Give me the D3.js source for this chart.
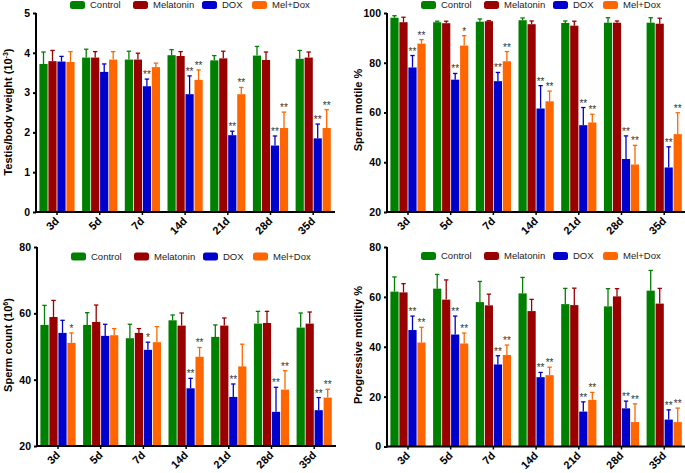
<!DOCTYPE html>
<html>
<head>
<meta charset="utf-8">
<script src="https://cdn.jsdelivr.net/npm/d3@7/dist/d3.min.js"></script>
<style>
  html, body { margin: 0; padding: 0; background: #fff; }
  svg { display: block; font-family: "Liberation Sans", Arial, sans-serif; }
</style>
</head>
<body>
<svg id="chart" width="685" height="473"></svg>
<script>
// ---------- DATA ----------
const groups = ["3d", "5d", "7d", "14d", "21d", "28d", "35d"];
const seriesNames = ["Control", "Melatonin", "DOX", "Mel+Dox"];
const seriesColors = ["#008000", "#990000", "#0000CC", "#FF6600"];

// Testis/body weight (10^-3)
const testisMean = [
  [3.72, 3.88, 3.83, 3.94, 3.81, 3.93, 3.85],
  [3.79, 3.88, 3.83, 3.92, 3.86, 3.82, 3.88],
  [3.78, 3.52, 3.16, 2.96, 1.93, 1.67, 1.85],
  [3.77, 3.83, 3.64, 3.32, 2.96, 2.11, 2.11]
];
const testisErr = [
  [0.30, 0.21, 0.21, 0.14, 0.12, 0.23, 0.21],
  [0.27, 0.15, 0.16, 0.11, 0.18, 0.20, 0.14],
  [0.13, 0.20, 0.18, 0.46, 0.10, 0.24, 0.36],
  [0.26, 0.20, 0.10, 0.25, 0.17, 0.40, 0.46]
];
const testisSig = [
  ["", "", "", "", "", "", ""],
  ["", "", "", "", "", "", ""],
  ["", "", "**", "**", "**", "**", "**"],
  ["", "", "", "**", "**", "**", "**"]
];
const testisTicks = [0, 1, 2, 3, 4, 5];

// Sperm motile %
const motileMean = [
  [98.1, 96.3, 96.5, 97.1, 96.0, 96.1, 96.1],
  [96.3, 95.9, 96.7, 95.5, 94.9, 96.1, 95.7],
  [78.1, 73.2, 72.6, 61.6, 54.9, 41.3, 37.9],
  [87.7, 86.9, 80.6, 64.5, 56.0, 39.1, 51.3]
];
const motileErr = [
  [0.8, 0.4, 1.1, 0.9, 0.8, 2.0, 2.0],
  [2.0, 0.8, 0.2, 1.3, 1.8, 0.7, 2.2],
  [4.8, 2.5, 3.5, 9.2, 7.1, 9.3, 8.3],
  [1.6, 4.0, 3.9, 4.1, 3.3, 7.7, 8.6]
];
const motileSig = [
  ["", "", "", "", "", "", ""],
  ["", "", "", "", "", "", ""],
  ["**", "**", "**", "**", "**", "**", "**"],
  ["**", "*", "**", "**", "**", "**", "**"]
];
const motileTicks = [20, 40, 60, 80, 100];

// Sperm count (10^6)
const countMean = [
  [56.5, 56.5, 52.5, 57.9, 52.9, 56.9, 55.7],
  [58.9, 57.4, 54.1, 56.3, 56.3, 57.1, 56.9],
  [54.1, 53.2, 49.0, 37.4, 34.8, 30.3, 30.8],
  [51.1, 53.4, 51.3, 46.9, 44.0, 37.0, 34.6]
];
const countErr = [
  [5.9, 3.7, 4.2, 1.6, 3.6, 3.7, 4.4],
  [5.0, 5.1, 1.3, 3.8, 2.3, 3.5, 3.5],
  [3.8, 3.5, 2.3, 3.0, 3.9, 7.4, 3.8],
  [3.0, 2.0, 4.7, 2.8, 6.7, 5.7, 2.5]
];
const countSig = [
  ["", "", "", "", "", "", ""],
  ["", "", "", "", "", "", ""],
  ["", "", "*", "**", "**", "**", "**"],
  ["*", "", "", "**", "", "**", "**"]
];
const countTicks = [20, 40, 60, 80];

// Progressive motility %
const progMean = [
  [62.1, 63.3, 57.9, 61.4, 57.1, 56.2, 62.5],
  [61.8, 58.9, 56.6, 54.3, 56.7, 60.2, 57.3],
  [46.7, 44.9, 32.9, 27.8, 14.0, 15.3, 10.8],
  [41.7, 41.3, 36.7, 28.6, 18.7, 9.8, 9.8]
];
const progErr = [
  [5.9, 5.7, 8.3, 6.4, 6.3, 7.1, 8.1],
  [3.5, 7.9, 4.5, 4.7, 6.8, 3.1, 6.1],
  [5.6, 7.4, 3.5, 1.9, 3.9, 2.9, 3.9],
  [6.1, 4.2, 4.0, 3.2, 3.0, 7.3, 5.6]
];
const progSig = [
  ["", "", "", "", "", "", ""],
  ["", "", "", "", "", "", ""],
  ["**", "**", "**", "**", "**", "**", "**"],
  ["**", "**", "**", "**", "**", "**", "**"]
];
const progTicks = [0, 20, 40, 60, 80];

// ---------- DRAW ----------
const svg = d3.select("#chart");
svg.append("rect").attr("width", 685).attr("height", 473).attr("fill", "#fff");

function drawPanel(cfg) {
  const g = svg.append("g");
  const y = d3.scaleLinear().domain(cfg.domain).range([cfg.yBottom, cfg.yTop]);
  const plotW = 299;
  const x = d3.scaleBand().domain(groups)
    .range([cfg.x0 + 3, cfg.x0 + 3 + 7 * 42.7 - 6.7])
    .paddingInner(0.157).paddingOuter(0);
  const xs = d3.scaleBand().domain(seriesNames).range([0, x.bandwidth()]).padding(0);

  // bars
  seriesNames.forEach((s, si) => {
    const col = seriesColors[si];
    groups.forEach((grp, gi) => {
      const v = cfg.means[si][gi];
      const e = cfg.errs[si][gi];
      const bx = x(grp) + xs(s);
      const bw = xs.bandwidth();
      const cx = bx + bw / 2;
      // error bar
      g.append("line").attr("x1", cx).attr("x2", cx)
        .attr("y1", y(v)).attr("y2", y(v + e))
        .attr("stroke", col).attr("stroke-width", 1.3);
      g.append("line").attr("x1", cx - 2.2).attr("x2", cx + 2.2)
        .attr("y1", y(v + e)).attr("y2", y(v + e))
        .attr("stroke", col).attr("stroke-width", 1.3);
      g.append("rect").attr("x", bx + 0.4).attr("width", bw - 0.8)
        .attr("y", y(v)).attr("height", y(cfg.domain[0]) - y(v))
        .attr("fill", col);
      const sig = cfg.sigs[si][gi];
      if (sig) {
        g.append("text").attr("x", cx).attr("y", y(v + e) - 1)
          .attr("text-anchor", "middle").attr("font-size", 10)
          .attr("fill", "#333").text(sig);
      }
    });
  });

  // y axis
  const yAxis = d3.axisLeft(y).tickValues(cfg.ticks).tickSize(3).tickPadding(3)
    .tickFormat(d3.format("d"));
  const ya = g.append("g").attr("transform", `translate(${cfg.x0},0)`).call(yAxis);
  ya.select(".domain").attr("stroke-width", 2).attr("d", `M0,${cfg.yTop}V${cfg.yBottom + 1}`);
  ya.selectAll(".tick line").attr("stroke-width", 2);
  ya.selectAll("text").attr("font-size", 10.5).attr("font-weight", "bold")
    .attr("font-family", "Liberation Sans, Arial, sans-serif").attr("fill", "#000");

  // x axis
  const xAxis = d3.axisBottom(x).tickSize(3).tickPadding(3);
  const xa = g.append("g").attr("transform", `translate(0,${cfg.yBottom})`).call(xAxis);
  xa.select(".domain").attr("stroke-width", 2).attr("d", `M${cfg.x0 - 1},0H${cfg.x0 + plotW}`);
  xa.selectAll(".tick line").attr("stroke-width", 1.5);
  xa.selectAll("text").attr("font-size", 11).attr("font-weight", "bold")
    .attr("font-family", "Liberation Sans, Arial, sans-serif").attr("fill", "#000")
    .attr("text-anchor", "end").attr("dy", "0.35em").attr("y", 0)
    .attr("transform", "translate(0,7) rotate(-45)");

  // y title
  const t = g.append("text")
    .attr("transform", `translate(${cfg.titleX},${cfg.titleY}) rotate(-90)`)
    .attr("text-anchor", "middle").attr("font-size", 11).attr("font-weight", "bold")
    .attr("fill", "#000");
  t.append("tspan").text(cfg.title[0]);
  if (cfg.title[1]) {
    t.append("tspan").attr("dy", -4).attr("font-size", 7).text(cfg.title[1]);
    t.append("tspan").attr("dy", 4).text(cfg.title[2]);
  }

  // legend
  const legOffsets = [34, 97, 166, 216];
  seriesNames.forEach((s, si) => {
    const lx = cfg.x0 + legOffsets[si];
    g.append("rect").attr("x", lx).attr("y", cfg.legendY - 4).attr("width", 15).attr("height", 8)
      .attr("rx", 2.5).attr("fill", seriesColors[si]);
    g.append("text").attr("x", lx + 20).attr("y", cfg.legendY).attr("dy", "0.35em")
      .attr("font-size", 9.5).attr("fill", "#222").text(s);
  });
}

drawPanel({
  x0: 36, yTop: 13, yBottom: 212, domain: [0, 5], ticks: testisTicks,
  means: testisMean, errs: testisErr, sigs: testisSig,
  title: ["Testis/body weight (10", "-3", ")"], titleX: 12, titleY: 112, legendY: 5
});
drawPanel({
  x0: 387, yTop: 13, yBottom: 212, domain: [20, 100], ticks: motileTicks,
  means: motileMean, errs: motileErr, sigs: motileSig,
  title: ["Sperm motile %"], titleX: 362, titleY: 110, legendY: 5
});
drawPanel({
  x0: 37, yTop: 247, yBottom: 446, domain: [20, 80], ticks: countTicks,
  means: countMean, errs: countErr, sigs: countSig,
  title: ["Sperm count (10", "6", ")"], titleX: 12, titleY: 345, legendY: 256.5
});
drawPanel({
  x0: 387, yTop: 247, yBottom: 446.5, domain: [0, 80], ticks: progTicks,
  means: progMean, errs: progErr, sigs: progSig,
  title: ["Progressive motility %"], titleX: 362, titleY: 345, legendY: 256
});
</script>
</body>
</html>
